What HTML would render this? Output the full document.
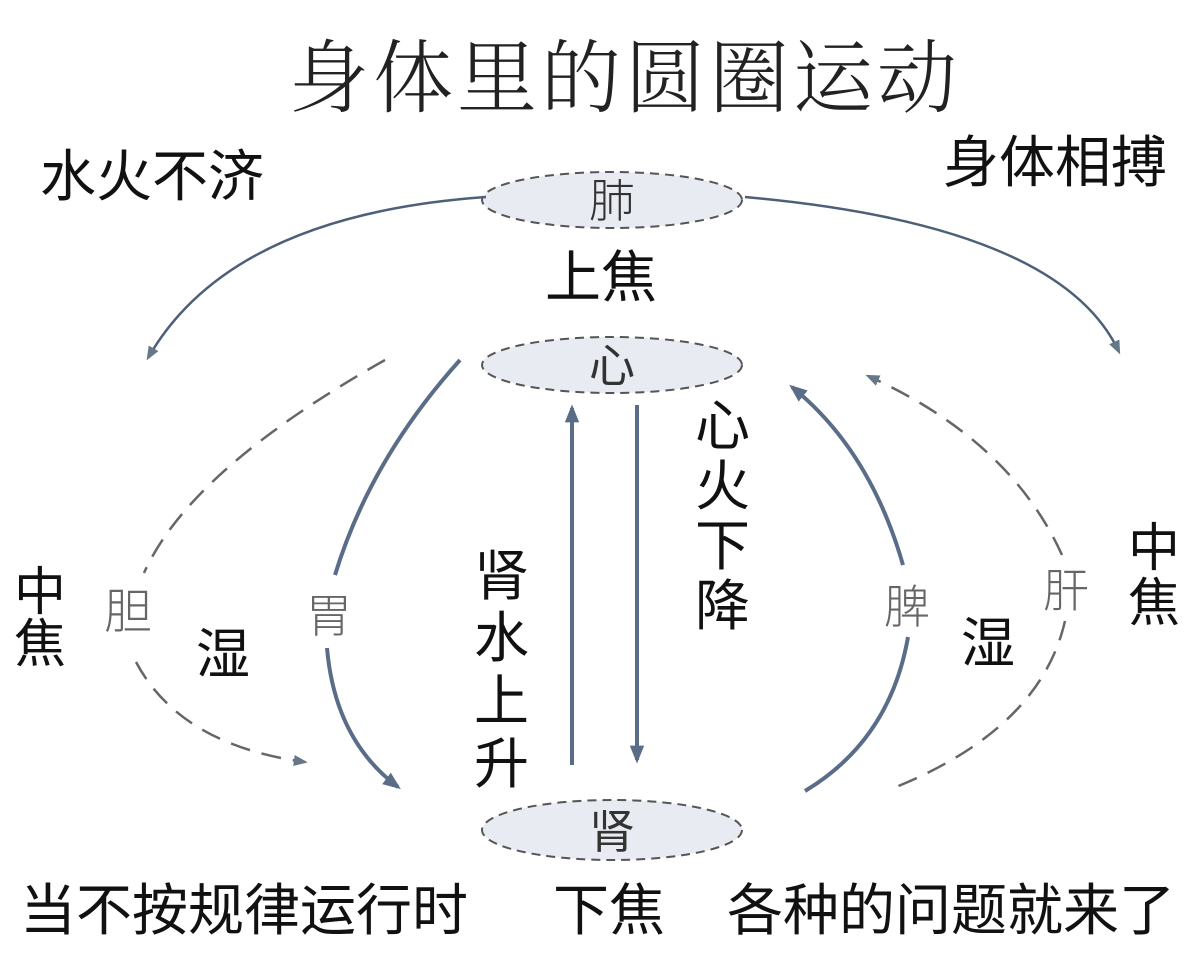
<!DOCTYPE html>
<html><head><meta charset="utf-8"><style>
html,body{margin:0;padding:0;background:#fff;}
svg{display:block;}
text{font-family:"Liberation Sans","Noto Sans CJK SC",sans-serif;fill:#111;}
.t{font-family:"Noto Serif CJK SC","Liberation Serif",serif;font-weight:300;fill:#222;}
.g{fill:#666;font-weight:300;}
</style></head><body>
<svg width="1200" height="964" viewBox="0 0 1200 964" xmlns="http://www.w3.org/2000/svg">
<defs>
<marker id="a" viewBox="0 0 10 10" refX="8" refY="5" markerWidth="6" markerHeight="6" orient="auto-start-reverse" markerUnits="userSpaceOnUse"><path d="M0,0 L10,5 L0,10 z" fill="#5a6d88"/></marker>
<marker id="b" viewBox="0 0 10 10" refX="8" refY="5" markerWidth="18" markerHeight="18" orient="auto" markerUnits="userSpaceOnUse"><path d="M0,1 L10,5 L0,9 z" fill="#5a6d88"/></marker>
<marker id="c" viewBox="0 0 10 10" refX="8" refY="5" markerWidth="14" markerHeight="14" orient="auto" markerUnits="userSpaceOnUse"><path d="M0,1 L10,5 L0,9 z" fill="#667788"/></marker>
</defs>
<text class="t" x="625" y="106" font-size="80" text-anchor="middle" letter-spacing="4">身体里的圆圈运动</text>
<text x="40" y="196" font-size="56">水火不济</text>
<text x="943" y="182" font-size="56">身体相搏</text>

<ellipse cx="612" cy="200" rx="130" ry="28" fill="#e9ebf3" stroke="#555" stroke-width="2" stroke-dasharray="9,6"/>
<ellipse cx="612" cy="365" rx="130" ry="28" fill="#e9ebf3" stroke="#555" stroke-width="2" stroke-dasharray="9,6"/>
<ellipse cx="612" cy="830" rx="130" ry="30" fill="#e9ebf3" stroke="#555" stroke-width="2" stroke-dasharray="9,6"/>
<text x="612" y="217" font-size="46" text-anchor="middle" class="g" style="fill:#333">肺</text>
<text x="612" y="382" font-size="46" text-anchor="middle" style="fill:#333">心</text>
<text x="612" y="848" font-size="46" text-anchor="middle" style="fill:#333">肾</text>
<text x="545" y="297" font-size="56">上焦</text>

<path d="M486,197 Q230,215 148,358" fill="none" stroke="#4e5f78" stroke-width="2.5" marker-end="url(#c)"/>
<path d="M745,197 Q1060,225 1119,352" fill="none" stroke="#4e5f78" stroke-width="2.5" marker-end="url(#c)"/>

<path d="M385,360 Q190,470 144,573" fill="none" stroke="#666" stroke-width="2.5" stroke-dasharray="20,12"/>
<path d="M136,662 Q180,745 305,762" fill="none" stroke="#666" stroke-width="2.5" stroke-dasharray="20,12" marker-end="url(#c)"/>
<text x="104" y="628" font-size="48" class="g">胆</text>
<text x="196" y="673" font-size="54">湿</text>

<path d="M460,360 Q370,460 335,575" fill="none" stroke="#5a6d88" stroke-width="4"/>
<path d="M327,648 Q335,740 398,787" fill="none" stroke="#5a6d88" stroke-width="4" marker-end="url(#b)"/>
<text x="306" y="632" font-size="46" class="g">胃</text>

<line x1="572" y1="765" x2="572" y2="408" stroke="#5a6d88" stroke-width="4" marker-end="url(#b)"/>
<line x1="637" y1="405" x2="637" y2="760" stroke="#5a6d88" stroke-width="4" marker-end="url(#b)"/>
<g font-size="55">
<text x="474" y="595">肾</text><text x="474" y="657">水</text><text x="474" y="720">上</text><text x="474" y="783">升</text>
<text x="695" y="445">心</text><text x="695" y="505">火</text><text x="695" y="565">下</text><text x="695" y="625">降</text>
</g>

<path d="M903,565 Q870,450 792,387" fill="none" stroke="#5a6d88" stroke-width="4" marker-end="url(#b)"/>
<path d="M908,637 Q890,740 805,791" fill="none" stroke="#5a6d88" stroke-width="4"/>
<text x="884" y="623" font-size="46" class="g">脾</text>
<path d="M1062,555 Q1010,440 868,376" fill="none" stroke="#666" stroke-width="2.5" stroke-dasharray="20,12" marker-end="url(#c)"/>
<path d="M1065,621 Q1040,730 891,789" fill="none" stroke="#666" stroke-width="2.5" stroke-dasharray="20,12"/>
<text x="1043" y="607" font-size="46" class="g">肝</text>
<text x="961" y="662" font-size="54">湿</text>
<text x="1128" y="566" font-size="52">中</text><text x="1128" y="621" font-size="52">焦</text>
<text x="14" y="610" font-size="52">中</text><text x="14" y="662" font-size="52">焦</text>

<text x="20" y="930" font-size="56">当不按规律运行时</text>
<text x="553" y="930" font-size="56">下焦</text>
<text x="727" y="930" font-size="56">各种的问题就来了</text>
</svg>
</body></html>
